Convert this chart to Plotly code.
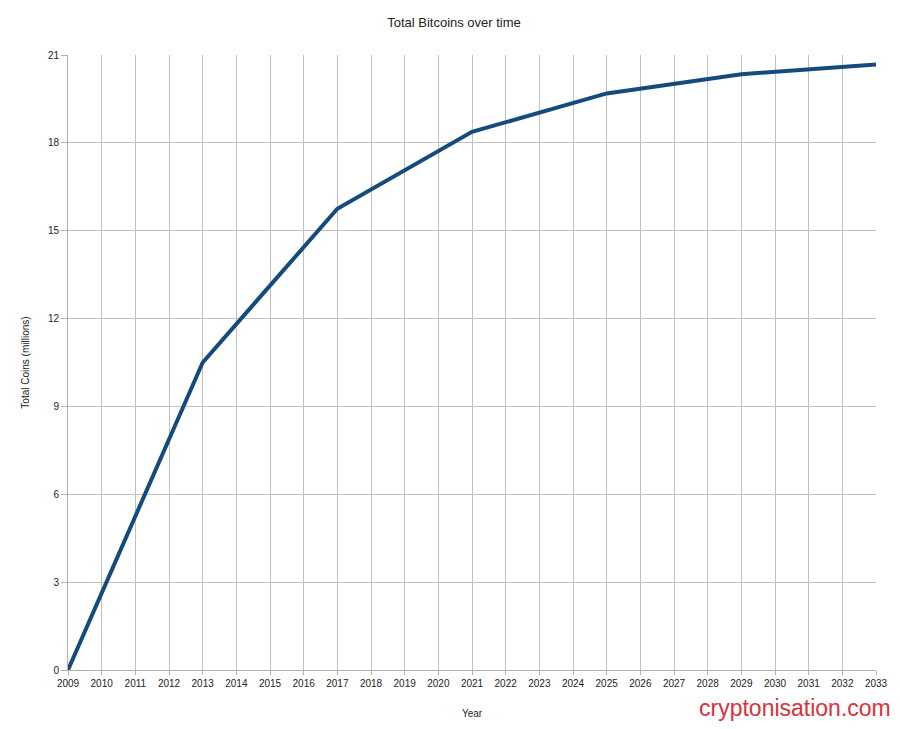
import plotly.graph_objects as go

years = [2009, 2013, 2017, 2021, 2025, 2029, 2033]
coins = [0, 10.5, 15.75, 18.375, 19.6875, 20.34375, 20.671875]
x_ticks = list(range(2009, 2034))
y_ticks = [0, 3, 6, 9, 12, 15, 18, 21]

W, H = 892, 721
ML, MR, MT, MB = 60, 20, 47, 53
PW, PH = W - ML - MR, H - MT - MB

fig = go.Figure()
fig.add_trace(go.Scatter(x=years, y=coins, mode="lines",
                         line=dict(color="#154a7c", width=4), showlegend=False))

fig.update_layout(
    width=W, height=H,
    margin=dict(l=ML, r=MR, t=MT, b=MB),
    paper_bgcolor="white", plot_bgcolor="white",
    font=dict(family="Liberation Sans, Arial, sans-serif", color="#222", size=10),
    title=dict(text="Total Bitcoins over time", x=0.5, xanchor="center",
               y=1 - 14/H, yanchor="middle", font=dict(size=13, color="#222")),
    xaxis=dict(range=[2009, 2033], tickvals=x_ticks, ticktext=[str(v) for v in x_ticks],
               showgrid=True, gridcolor="#c0c0c0", gridwidth=1,
               showline=True, linecolor="#b0b0b0", zeroline=False,
               ticks="outside", ticklen=4, tickcolor="#b0b0b0",
               tickfont=dict(size=10, color="#222"),
               title=dict(text="Year", font=dict(size=10, color="#222"), standoff=21)),
    yaxis=dict(range=[0, 21], tickvals=y_ticks,
               showgrid=True, gridcolor="#c0c0c0", gridwidth=1,
               showline=True, linecolor="#b0b0b0", zeroline=False, mirror=False,
               ticks="outside", ticklen=6, tickcolor="#b0b0b0",
               tickfont=dict(size=10, color="#222"),
               title=dict(text="Total Coins (millions)", font=dict(size=10, color="#222"), standoff=16)),
)
fig.add_annotation(text="cryptonisation.com", xref="paper", yref="paper",
                   x=(889 - ML) / PW, y=-38/PH, xanchor="right", yanchor="middle",
                   showarrow=False, font=dict(size=23, color="#d8323a",
                                              family="Liberation Sans, Arial, sans-serif"))
fig.write_html("out.html")
